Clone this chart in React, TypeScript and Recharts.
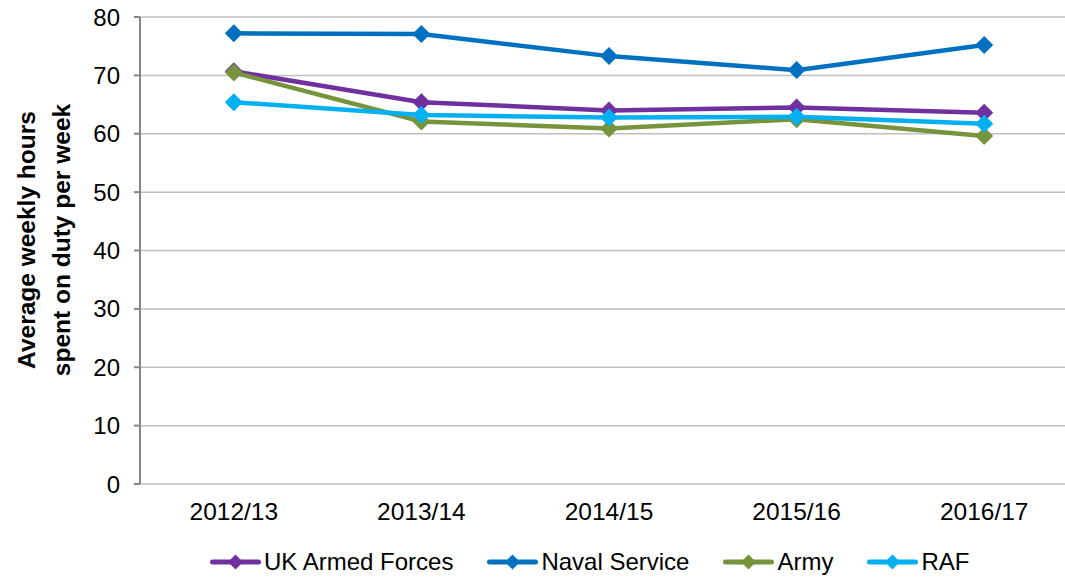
import { LineChart, Line, XAxis, YAxis, CartesianGrid, Legend } from "recharts";

// Average weekly hours on duty, by service
const years = ["2012/13", "2013/14", "2014/15", "2015/16", "2016/17"];
const ukArmedForces = [70.7, 65.4, 64.0, 64.5, 63.6];
const navalService = [77.2, 77.1, 73.3, 70.9, 75.2];
const army = [70.5, 62.1, 60.9, 62.5, 59.6];
const raf = [65.4, 63.2, 62.8, 62.9, 61.7];
const yTicks = [0, 10, 20, 30, 40, 50, 60, 70, 80];

const series = [
  { key: "uk", name: "UK Armed Forces", color: "#7030A0", values: ukArmedForces },
  { key: "naval", name: "Naval Service", color: "#0070C0", values: navalService },
  { key: "army", name: "Army", color: "#77933C", values: army },
  { key: "raf", name: "RAF", color: "#00B0F0", values: raf },
];

const data = years.map((year, i) => {
  const row: Record<string, number | string> = { idx: i, year };
  series.forEach((s) => {
    row[s.key] = s.values[i];
  });
  return row;
});

// category boundaries carry the tick marks, centres carry the labels
const boundaryTicks = [...years.map((_, i) => i - 0.5), years.length - 0.5];
const centreTicks = years.map((_, i) => i);

const font = "'Liberation Sans', Arial, sans-serif";
const axisGrey = "#868686";

function diamondPath(x: number, y: number, r: number) {
  return `M${x},${y - r}L${x + r},${y}L${x},${y + r}L${x - r},${y}Z`;
}

const diamondDot = (color: string) => (props: any) => {
  const { cx, cy, index } = props;
  if (cx == null || cy == null) return <g key={index} />;
  return <path key={index} d={diamondPath(cx, cy, 9)} fill={color} />;
};

function LegendContent() {
  return (
    <div
      style={{
        display: "flex",
        alignItems: "center",
        height: 32,
        gap: 34,
        paddingLeft: 210,
        fontFamily: font,
        fontSize: 24,
        color: "#000",
      }}
    >
      {series.map((s) => (
        <div key={s.key} style={{ display: "flex", alignItems: "center" }}>
          <svg width={51} height={20} style={{ display: "block" }}>
            <line x1={2.5} x2={48.5} y1={10} y2={10} stroke={s.color} strokeWidth={5} strokeLinecap="round" />
            <path d={diamondPath(25.5, 10, 7.5)} fill={s.color} />
          </svg>
          <span style={{ marginLeft: 3 }}>{s.name}</span>
        </div>
      ))}
    </div>
  );
}

const YTitle = () => (
  <text
    transform="translate(0,240) rotate(-90)"
    textAnchor="middle"
    fontFamily={font}
    fontWeight="bold"
    fontSize={24.5}
    fill="#000"
  >
    <tspan x={0} y={35}>Average weekly hours</tspan>
    <tspan x={0} y={70}>spent on duty per week</tspan>
  </text>
);

export default function App() {
  return (
    <div
      style={{
        position: "fixed",
        top: 0,
        left: 0,
        width: 1065,
        height: 578,
        overflow: "hidden",
        background: "#fff",
      }}
    >
      <LineChart
        width={1078}
        height={578}
        data={data}
        margin={{ top: 17, right: 0, bottom: 0, left: 0 }}
        style={{ fontFamily: font }}
      >
        <CartesianGrid xAxisId="bounds" vertical={false} stroke="#BFBFBF" strokeWidth={1.5} />
        <XAxis
          xAxisId="bounds"
          dataKey="idx"
          type="number"
          domain={[-0.5, years.length - 0.5]}
          ticks={boundaryTicks}
          interval={0}
          height={0}
          tickSize={6}
          tickFormatter={() => ""}
          axisLine={{ stroke: axisGrey, strokeWidth: 2 }}
          tickLine={{ stroke: axisGrey, strokeWidth: 2 }}
        />
        <XAxis
          xAxisId="labels"
          dataKey="idx"
          type="number"
          domain={[-0.5, years.length - 0.5]}
          ticks={centreTicks}
          interval={0}
          height={62}
          tickSize={6}
          tickMargin={13}
          axisLine={false}
          tickLine={false}
          tickFormatter={(v) => years[Number(v)] ?? ""}
          tick={{ fill: "#000", fontSize: 24.5, fontFamily: font }}
        />
        <YAxis
          domain={[0, 80]}
          ticks={yTicks}
          interval={0}
          width={140}
          tickSize={6}
          tickMargin={14}
          axisLine={{ stroke: axisGrey, strokeWidth: 2 }}
          tickLine={{ stroke: axisGrey, strokeWidth: 2 }}
          tick={{ fill: "#000", fontSize: 24, fontFamily: font }}
          label={{ content: YTitle }}
        />
        <Legend verticalAlign="bottom" content={LegendContent} />
        {series.map((s) => (
          <Line
            key={s.key}
            xAxisId="bounds"
            dataKey={s.key}
            name={s.name}
            stroke={s.color}
            strokeWidth={4.5}
            dot={diamondDot(s.color)}
            activeDot={false}
            isAnimationActive={false}
          />
        ))}
      </LineChart>
    </div>
  );
}
